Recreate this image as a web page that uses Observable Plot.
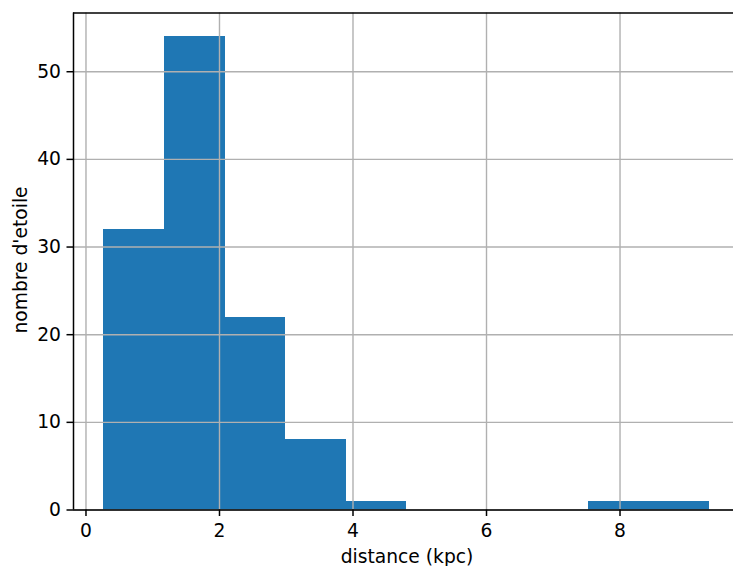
<!DOCTYPE html>
<html>
<head>
<meta charset="utf-8">
<script src="https://cdn.jsdelivr.net/npm/d3@7"></script>
<script src="https://cdn.jsdelivr.net/npm/@observablehq/plot@0.6"></script>
<style>
  html, body { margin: 0; padding: 0; background: #fff; overflow: hidden; }
  #chart svg { display: block; }
</style>
</head>
<body>
<div id="chart"></div>
<script>
// Histogram bin edges (kpc) and counts per bin
const binStarts = [0.267, 1.175, 2.083, 2.991, 3.899, 4.807, 5.715, 6.623, 7.531, 8.439];
const binEnds   = [1.175, 2.083, 2.991, 3.899, 4.807, 5.715, 6.623, 7.531, 8.439, 9.347];
const counts    = [32, 54, 22, 8, 1, 0, 0, 0, 1, 1];
const xTicks = [0, 2, 4, 6, 8];
const yTicks = [0, 10, 20, 30, 40, 50];
const xLabel = "distance (kpc)";
const yLabel = "nombre d'etoile";

const bins = counts.map((c, i) => ({x1: binStarts[i], x2: binEnds[i], count: c})).filter(d => d.count > 0);

const FONT = "DejaVu Sans, sans-serif";
const FS = 18.7;
const xDomain = [-0.187, 9.70];
const yDomain = [0, 56.7];

const chart = Plot.plot({
  width: 733,
  height: 566,
  marginLeft: 73,
  marginRight: 0,
  marginTop: 12.5,
  marginBottom: 56.5,
  style: {fontFamily: FONT, fontSize: FS + "px", color: "black", background: "white"},
  x: {domain: xDomain},
  y: {domain: yDomain},
  marks: [
    Plot.rectY(bins, {x1: "x1", x2: "x2", y1: 0, y2: "count", fill: "#1f77b4", inset: 0, shapeRendering: "crispEdges"}),
    Plot.gridX(xTicks, {stroke: "#b0b0b0", strokeOpacity: 1, strokeWidth: 1.4}),
    Plot.gridY(yTicks, {stroke: "#b0b0b0", strokeOpacity: 1, strokeWidth: 1.4}),
    Plot.ruleX([xDomain[0]], {stroke: "black", strokeWidth: 1.5}),
    Plot.ruleY([yDomain[0]], {stroke: "black", strokeWidth: 1.5}),
    Plot.ruleY([yDomain[1]], {stroke: "black", strokeWidth: 1.5}),
    Plot.axisX(xTicks, {tickSize: 6.5, tickPadding: 7.5, strokeWidth: 1.5, fontSize: FS, label: null, fill: "black", stroke: "black"}),
    Plot.axisY(yTicks, {tickSize: 6.5, tickPadding: 6, strokeWidth: 1.5, fontSize: FS, label: null, fill: "black", stroke: "black"}),
    Plot.text([xLabel], {frameAnchor: "bottom", lineAnchor: "bottom", dy: 52.5, dx: 3.5, fontSize: FS, fill: "black"}),
    Plot.text([yLabel], {frameAnchor: "left", rotate: -90, lineAnchor: "bottom", textAnchor: "middle", dx: -46.5, dy: -1.5, fontSize: FS, fill: "black"})
  ]
});
document.getElementById("chart").appendChild(chart);
</script>
</body>
</html>
